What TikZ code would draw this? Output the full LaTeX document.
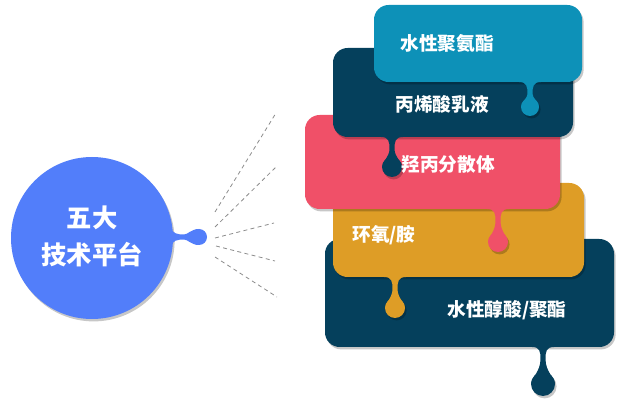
\documentclass[tikz,border=0pt]{standalone}
\usepackage{fontspec}
\newfontfamily\cjk{Noto Sans CJK SC}
\usetikzlibrary{shadows}

\definecolor{hubblue}{RGB}{82,126,250}
\definecolor{teal}{RGB}{13,145,184}
\definecolor{navy}{RGB}{5,64,92}
\definecolor{rose}{RGB}{240,80,104}
\definecolor{amber}{RGB}{222,157,38}

\tikzset{
  softshadow/.style={drop shadow={shadow xshift=1.2pt, shadow yshift=-1.8pt, opacity=0.22, fill=black}},
  platebox/.style={rectangle, rounded corners=11pt, inner sep=0pt, draw=none, softshadow},
  platetext/.style={text=white, inner sep=0.75pt, font=\cjk\bfseries\fontsize{14}{16}\selectfont},
  ray/.style={draw={rgb,255:red,140;green,140;blue,140}, line width=0.6pt, dash pattern={on 3pt off 2.5pt}}
}

% drip below a box: colour, centre x, box bottom, drop centre y, drop radius
\newcommand{\drip}[5]{%
  \fill[#1] (#2-11,#3) .. controls (#2-3,#3) and (#2-2.5,#3+5) .. (#2-2.5,#3+12) .. controls (#2-2.5,#4-#5) and (#2-#5,#4-0.5*#5) .. (#2-#5,#4) -- (#2+#5,#4) .. controls (#2+#5,#4-0.5*#5) and (#2+2.5,#4-#5) .. (#2+2.5,#3+12) .. controls (#2+2.5,#3+5) and (#2+3,#3) .. (#2+11,#3) -- cycle;
  \fill[#1, softshadow] (#2,#4) circle[radius=#5];
}

\begin{document}
\begin{tikzpicture}[x=0.75pt,y=0.75pt,yscale=-1,xscale=1]
    \useasboundingbox (0,0) rectangle (628,409);

    % hub
    \node (hub) [circle, fill=hubblue, minimum size=121.5pt, inner sep=0pt, softshadow] at (92,238) {};
    \fill[hubblue] (170,226) .. controls (172,234) and (178,234.5) .. (184,234.5) .. controls (188,234.5) and (191,229) .. (199,229) -- (199,245) .. controls (191,245) and (188,239.5) .. (184,239.5) .. controls (178,239.5) and (172,240) .. (170,248) -- cycle;
    \fill[hubblue] (199,237) circle[radius=8];
    \node (hubtext) [text=white, align=center, inner sep=0pt, font=\cjk\bfseries\fontsize{19}{27.75}\selectfont] at (92,236) {五大\\技术平台};

    % rays
    \foreach \i/\sx/\sy/\ex/\ey in {1/215/212/276/113, 2/215/227/277/166, 3/215/238/274/223, 4/216/246/275/261, 5/215/257/277/297}{
      \coordinate (s\i) at (\sx,\sy);
      \coordinate (e\i) at (\ex,\ey);
      \draw[ray] (s\i) -- (e\i);
    }

    % plates, bottom to top
    \node (alkyd) [platebox, fill=navy, minimum width=216.75pt, minimum height=81pt] at (469.5,293) {};
    \drip{navy}{543}{347}{384}{12}
    \node (epoxy) [platebox, fill=amber, minimum width=188.25pt, minimum height=70.5pt] at (458.5,230) {};
    \drip{amber}{395}{277}{308}{10}
    \node (hydroxy) [platebox, fill=rose, minimum width=191.25pt, minimum height=70.5pt] at (432.5,162) {};
    \drip{rose}{498}{209}{242}{10}
    \node (acrylic) [platebox, fill=navy, minimum width=180pt, minimum height=66.75pt] at (453,92.5) {};
    \drip{navy}{392}{137}{167}{10}
    \node (pu) [platebox, fill=teal, minimum width=156pt, minimum height=57.75pt] at (478,43.5) {};
    \drip{teal}{530}{82}{107}{9}

    % labels
    \node (pulabel) [platetext] at (447,43) {水性聚氨酯};
    \node (acryliclabel) [platetext] at (442,104) {丙烯酸乳液};
    \node (hydroxylabel) [platetext] at (448,164) {羟丙分散体};
    \node (epoxylabel) [platetext] at (384,235) {环氧/胺};
    \node (alkydlabel) [platetext] at (507,310) {水性醇酸/聚酯};
\end{tikzpicture}
\end{document}
